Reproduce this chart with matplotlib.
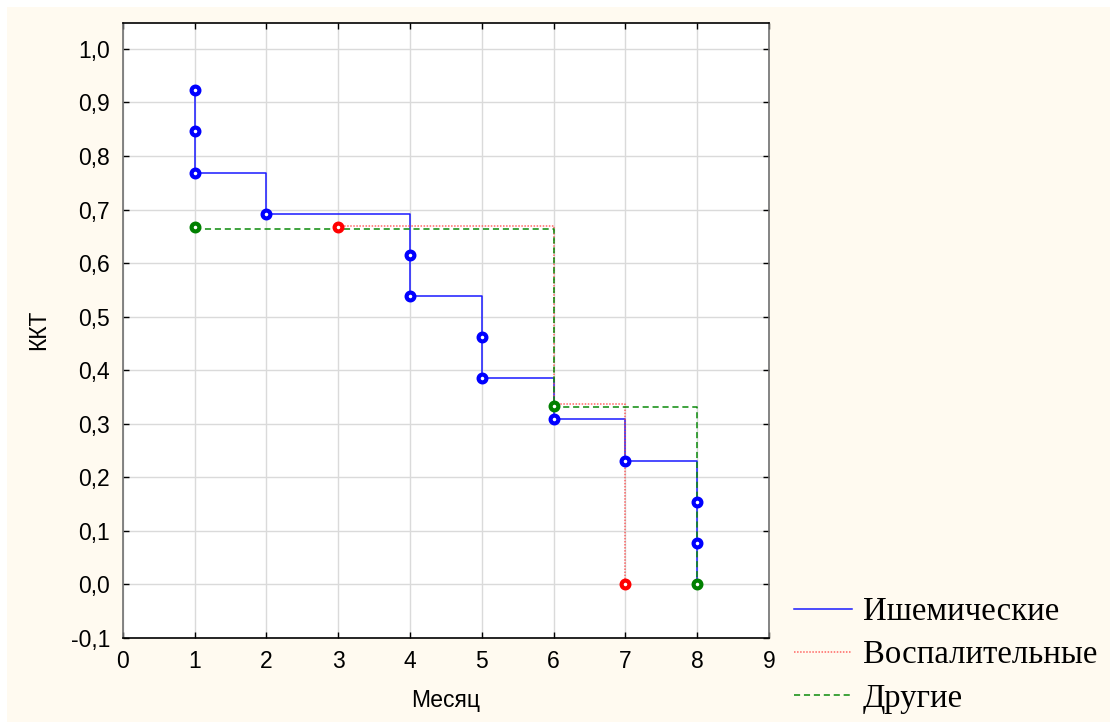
import matplotlib
matplotlib.use("Agg")
import matplotlib.pyplot as plt
from matplotlib.patches import Rectangle
from matplotlib.ticker import FuncFormatter, MultipleLocator

# ---- data ----
series_names = ["Ишемические", "Воспалительные", "Другие"]

# step curves: (time, level after the step)
isch_start = 0.923
isch_t = [1, 2, 4, 5, 6, 7, 8]
isch_s = [0.769, 0.692, 0.538, 0.385, 0.308, 0.231, 0.0]
isch_mx = [1, 1, 1, 2, 4, 4, 5, 5, 6, 7, 8, 8]
isch_my = [0.923, 0.846, 0.769, 0.692, 0.615, 0.538, 0.462, 0.385, 0.308, 0.231, 0.154, 0.077]

infl_t = [3, 6, 7]
infl_s = [0.669, 0.336, 0.0]
infl_mx = [3, 7]
infl_my = [0.667, 0.0]

oth_t = [1, 6, 8]
oth_s = [0.664, 0.331, 0.0]
oth_mx = [1, 6, 8]
oth_my = [0.667, 0.333, 0.0]

xlabel = "Месяц"
ylabel = "ККТ"

W, H = 1110, 722
fig = plt.figure(figsize=(W / 100, H / 100), dpi=100, facecolor="white")
fig.patches.append(Rectangle((7 / W, 0), 1 - 7 / W, (H - 5) / H - 2 / H,
                             transform=fig.transFigure, facecolor="#FFFAF0",
                             edgecolor="none", zorder=-10))

ax = fig.add_axes([122.7 / W, (H - 637.8) / H, (769 - 122.7) / W, (637.8 - 22.7) / H])
ax.set_facecolor("white")

def step_xy(start, t, s):
    xs = [t[0]] + list(t)
    ys = [start] + list(s)
    return xs, ys

mk = dict(marker="o", linestyle="none", markersize=5.6, markeredgewidth=3.0,
          markerfacecolor="white", zorder=5)

x, y = step_xy(isch_start, isch_t, isch_s)
l1, = ax.plot(x, y, drawstyle="steps-post", color="#1a1aff", lw=1.1, zorder=3)
x, y = step_xy(infl_s[0], infl_t, infl_s)
l2, = ax.plot(x, y, drawstyle="steps-post", color="#ff4040", lw=1.1,
              linestyle=(0, (1, 1)), alpha=0.8, zorder=3)
x, y = step_xy(oth_s[0], oth_t, oth_s)
l3, = ax.plot(x, y, drawstyle="steps-post", color="#0a8a0a", lw=1.1,
              linestyle=(0, (4, 2.5)), zorder=3)

ax.plot(isch_mx, isch_my, color="#0000ff", markeredgecolor="#0000ff", **mk)
ax.plot(infl_mx, infl_my, color="#ff0000", markeredgecolor="#ff0000", **mk)
ax.plot(oth_mx, oth_my, color="#008000", markeredgecolor="#008000", **mk)

ax.set_xlim(0, 9)
ax.set_ylim(-0.1, 1.049)
ax.xaxis.set_major_locator(MultipleLocator(1))
ax.set_yticks([i / 10 for i in range(-1, 11)])
ax.yaxis.set_major_formatter(FuncFormatter(lambda v, p: f"{v:.1f}".replace(".", ",").replace("-0,0", "0,0")))
ax.grid(True, color="#dadada", lw=1.0)
ax.set_axisbelow(True)
ax.tick_params(direction="in", length=4, width=1, top=True, right=True,
               labelsize=16.5, pad=9, colors="black")
for lab in ax.get_xticklabels() + ax.get_yticklabels():
    lab.set_family("Liberation Sans")
ax.spines["left"].set_color("#707070")
ax.spines["right"].set_color("#707070")
ax.spines["top"].set_color("black")
ax.spines["bottom"].set_color("black")
for s in ax.spines.values():
    s.set_linewidth(1.2)

ax.set_xlabel(xlabel, fontsize=16.5, family="Liberation Sans", labelpad=11)
ax.set_ylabel(ylabel, fontsize=16.5, family="Liberation Sans", labelpad=15)

leg = fig.legend([l1, l2, l3], series_names, loc="upper left",
                 bbox_to_anchor=(764 / W, (H - 567) / H), frameon=False,
                 prop={"family": "Liberation Serif", "size": 23.6},
                 handlelength=1.77, handletextpad=0.34, labelspacing=0.39)

fig.savefig("out.png", dpi=100, facecolor=fig.get_facecolor())
